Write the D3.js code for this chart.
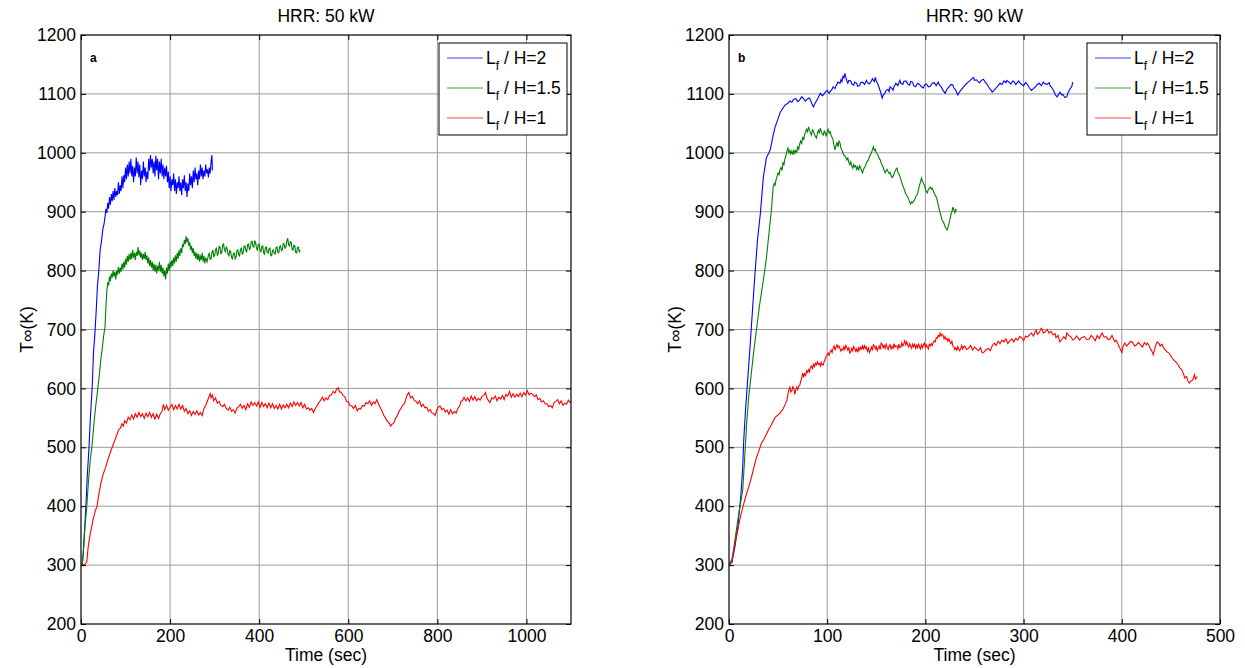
<!DOCTYPE html>
<html><head><meta charset="utf-8">
<script src="https://cdn.jsdelivr.net/npm/d3@7"></script>
<style>body{margin:0;background:#fff}svg{display:block}text{font-family:"Liberation Sans",Arial,sans-serif}</style>
</head><body>
<svg id="c" width="1245" height="668"></svg>
<script>
// ---- data: [time (s), temperature (K)] ----
const titles = ["HRR: 50 kW", "HRR: 90 kW"];
const panelLabels = ["a", "b"];
const seriesNames = ["2", "1.5", "1"];
const xTicksA = [0, 200, 400, 600, 800, 1000];
const xTicksB = [0, 100, 200, 300, 400, 500];
const yTicks = [200, 300, 400, 500, 600, 700, 800, 900, 1000, 1100, 1200];

const a_H2 = [[0,300],[3,302],[5,320],[8,360],[11,400],[14,450],[18,500],[21,550],[25,600],[28,660],[31,690],[34,730],[37,775],[40,800],[43,835],[46,850],[49,870],[52,880],[54,892],[56,905],[58,898],[60,915],[62,905],[64,925],[66,912],[68,930],[70,918],[72,935],[74,920],[76,940],[78,925],[80,935],[82,928],[84,950],[86,930],[88,945],[90,935],[92,960],[94,940],[96,962],[98,950],[100,975],[102,955],[104,980],[106,960],[108,985],[110,965],[112,990],[114,960],[116,978],[118,950],[120,975],[122,960],[124,992],[126,965],[128,985],[130,958],[132,980],[134,945],[136,970],[138,955],[140,985],[142,960],[144,975],[146,950],[148,968],[150,955],[152,990],[154,970],[156,996],[158,975],[160,990],[162,965],[164,985],[166,960],[168,995],[170,970],[172,990],[174,955],[176,985],[178,965],[180,990],[182,960],[184,980],[186,955],[188,975],[190,960],[192,978],[194,950],[196,968],[198,940],[200,960],[202,935],[204,955],[206,945],[208,965],[210,935],[212,955],[214,930],[216,950],[218,940],[220,960],[222,935],[224,950],[226,928],[228,955],[230,940],[232,962],[234,935],[236,950],[238,925],[240,948],[242,935],[244,965],[246,945],[248,960],[250,940],[252,970],[254,950],[256,975],[258,955],[260,965],[262,945],[264,970],[266,955],[268,980],[270,960],[272,975],[274,955],[276,970],[278,960],[280,980],[282,965],[284,972],[286,958],[288,975],[290,965],[292,985],[294,996],[295,970]];
const a_H15 = [[0,300],[3,302],[6,330],[9,365],[13,400],[17,445],[21,480],[25,505],[29,540],[33,570],[37,595],[40,615],[44,645],[48,670],[51,690],[54,705],[56,740],[58,765],[60,780],[62,775],[64,790],[66,782],[68,795],[70,788],[72,800],[74,790],[76,798],[78,785],[80,800],[82,793],[84,806],[86,795],[88,805],[90,798],[92,812],[94,802],[96,815],[98,805],[100,820],[102,810],[104,825],[106,815],[108,828],[110,818],[112,830],[114,820],[116,835],[118,822],[120,830],[122,818],[124,832],[126,825],[128,840],[130,826],[132,834],[134,822],[136,830],[138,818],[140,828],[142,820],[144,832],[146,818],[148,826],[150,812],[152,822],[154,808],[156,818],[158,805],[160,815],[162,800],[164,812],[166,798],[168,810],[170,795],[172,808],[174,800],[176,815],[178,798],[180,810],[182,795],[184,805],[186,790],[188,800],[190,785],[192,805],[194,795],[196,812],[198,800],[200,815],[202,805],[204,818],[206,808],[208,822],[210,812],[212,826],[214,815],[216,830],[218,820],[220,835],[222,825],[224,838],[226,830],[228,845],[230,840],[232,852],[234,845],[236,858],[238,848],[240,855],[242,842],[244,848],[246,835],[248,842],[250,830],[252,838],[254,825],[256,832],[258,820],[260,830],[262,818],[264,828],[266,815],[268,826],[270,818],[272,830],[274,815],[276,825],[278,812],[280,822],[283,815],[286,826],[288,830],[290,819],[292,820],[294,831],[296,835],[298,824],[300,825],[302,836],[304,838],[306,826],[308,828],[310,841],[312,840],[314,829],[316,830],[318,843],[320,845],[322,836],[324,832],[326,840],[328,838],[330,828],[332,825],[334,834],[336,832],[338,822],[340,820],[342,829],[344,830],[346,820],[348,822],[350,834],[352,835],[354,827],[356,825],[358,836],[360,838],[362,828],[364,830],[366,841],[368,842],[370,834],[372,832],[374,844],[376,845],[378,836],[380,838],[382,849],[384,850],[386,841],[388,840],[390,850],[392,848],[394,838],[396,835],[398,844],[400,845],[402,834],[404,832],[406,841],[408,842],[410,830],[412,828],[414,839],[416,840],[418,831],[420,830],[422,837],[424,838],[426,826],[428,825],[430,834],[432,835],[434,829],[436,828],[438,839],[440,840],[442,831],[444,830],[446,841],[448,842],[450,834],[452,835],[454,846],[456,845],[458,838],[460,840],[462,850],[464,855],[466,844],[468,842],[470,849],[472,848],[474,836],[476,835],[478,843],[480,842],[482,831],[484,830],[486,839],[488,840],[490,832],[492,835]];
const a_H1 = [[0,300],[5,300],[10,302],[13,305],[16,330],[20,350],[24,365],[28,380],[32,392],[36,400],[40,420],[45,440],[50,455],[55,465],[60,478],[65,490],[70,500],[75,510],[80,520],[84,529],[88,532],[92,540],[95,536],[98,545],[102,541],[106,551],[110,547],[114,555],[118,548],[122,557],[126,551],[130,559],[134,552],[138,557],[142,549],[146,558],[150,552],[154,559],[158,551],[162,557],[166,548],[170,556],[174,549],[178,557],[182,561],[185,573],[188,564],[192,571],[196,563],[200,568],[204,573],[208,564],[212,571],[216,565],[220,573],[224,565],[228,571],[232,561],[236,566],[240,557],[244,562],[248,554],[252,561],[256,556],[260,562],[264,555],[268,559],[272,554],[276,566],[280,571],[284,579],[288,587],[290,591],[292,584],[295,589],[298,579],[302,584],[306,575],[310,578],[314,571],[318,569],[322,573],[326,566],[330,563],[334,568],[338,561],[342,564],[346,558],[350,566],[354,569],[358,573],[362,566],[366,571],[370,564],[374,574],[378,568],[382,577],[386,571],[390,576],[394,570],[398,577],[402,568],[406,576],[410,569],[414,574],[418,567],[422,575],[426,567],[430,574],[434,566],[438,571],[442,565],[446,573],[450,565],[454,572],[458,567],[462,573],[466,567],[470,575],[474,569],[478,577],[482,571],[486,576],[490,570],[494,576],[498,567],[502,573],[506,565],[510,567],[514,563],[518,566],[522,559],[526,566],[530,571],[534,576],[538,580],[542,585],[546,579],[550,584],[554,581],[558,588],[562,589],[566,595],[570,592],[574,599],[578,601],[580,594],[584,594],[588,588],[592,586],[596,578],[600,577],[604,571],[608,570],[612,566],[616,571],[620,562],[624,566],[628,565],[632,571],[636,570],[640,576],[644,574],[648,579],[652,571],[656,577],[660,574],[664,581],[668,573],[672,567],[676,561],[680,554],[684,549],[688,544],[692,541],[695,536],[698,539],[702,541],[706,549],[710,554],[714,561],[718,566],[722,571],[726,574],[730,584],[733,590],[736,593],[740,584],[744,586],[748,580],[752,578],[756,574],[760,579],[764,569],[768,573],[772,567],[776,568],[780,561],[784,564],[788,558],[792,557],[795,554],[798,562],[802,568],[806,570],[810,564],[814,566],[818,560],[822,563],[826,556],[830,564],[834,557],[838,561],[842,558],[846,566],[850,570],[853,578],[856,579],[860,585],[864,579],[868,584],[872,578],[876,587],[880,580],[884,586],[888,579],[892,583],[896,580],[900,586],[904,588],[908,593],[911,584],[914,580],[918,576],[922,584],[926,582],[930,587],[934,579],[938,585],[942,582],[946,588],[950,581],[954,590],[958,587],[962,595],[966,585],[970,591],[974,585],[978,590],[982,586],[986,592],[990,586],[994,593],[998,589],[1002,596],[1006,589],[1010,592],[1014,590],[1018,586],[1022,589],[1026,581],[1030,583],[1034,577],[1038,579],[1042,574],[1046,574],[1050,569],[1054,571],[1058,567],[1062,576],[1066,578],[1070,581],[1074,574],[1078,579],[1082,571],[1086,575],[1090,573],[1094,580],[1098,576],[1100,578]];

const b_H2 = [[0,300],[3,305],[6,331],[9,365],[12,416],[14,467],[15,512],[17,568],[19,614],[21,660],[23,710],[26,784],[29,852],[32,898],[35,959],[38,991],[42,1005],[45,1030],[47,1044],[50,1058],[52,1068],[55,1076],[57,1081],[60,1084],[62,1088],[64,1086],[66,1091],[68,1092],[70,1087],[72,1090],[74,1095],[75,1094],[77,1089],[78,1088],[80,1092],[82,1093],[83,1089],[84,1085],[85,1081],[86,1078],[87,1082],[89,1088],[91,1094],[93,1101],[95,1097],[96,1098],[98,1103],[100,1106],[102,1101],[103,1104],[105,1108],[106,1112],[108,1109],[109,1114],[110,1117],[111,1120],[113,1118],[114,1124],[115,1121],[116,1130],[117,1127],[118,1135],[119,1128],[120,1122],[121,1118],[122,1123],[124,1122],[125,1117],[127,1115],[128,1120],[130,1118],[131,1113],[133,1114],[134,1119],[136,1120],[138,1116],[140,1123],[141,1119],[143,1117],[145,1122],[146,1126],[148,1121],[149,1128],[150,1122],[152,1115],[153,1110],[154,1105],[155,1099],[156,1093],[157,1098],[159,1102],[160,1106],[162,1108],[163,1104],[164,1112],[166,1109],[167,1106],[168,1112],[170,1118],[172,1114],[174,1123],[175,1118],[177,1116],[178,1121],[180,1122],[182,1117],[184,1115],[185,1121],[187,1120],[188,1114],[190,1112],[192,1118],[194,1116],[196,1112],[198,1110],[199,1115],[201,1117],[203,1112],[205,1113],[207,1118],[209,1119],[211,1114],[213,1120],[214,1116],[216,1112],[218,1106],[220,1101],[222,1108],[224,1112],[226,1116],[228,1115],[229,1110],[231,1106],[232,1102],[233,1098],[235,1104],[237,1108],[239,1112],[241,1116],[243,1119],[245,1122],[247,1125],[249,1128],[250,1123],[252,1124],[254,1120],[255,1119],[257,1123],[259,1125],[261,1120],[262,1118],[264,1113],[265,1110],[267,1106],[268,1103],[270,1106],[272,1110],[274,1114],[276,1118],[278,1116],[280,1122],[282,1119],[283,1123],[285,1120],[287,1117],[289,1122],[290,1121],[292,1116],[293,1118],[295,1122],[296,1119],[298,1116],[300,1114],[302,1119],[304,1116],[306,1110],[308,1106],[310,1109],[312,1112],[314,1116],[316,1118],[318,1114],[320,1120],[322,1117],[324,1116],[326,1119],[327,1114],[329,1110],[331,1104],[332,1100],[333,1097],[334,1095],[336,1100],[337,1103],[339,1098],[340,1099],[342,1094],[344,1095],[345,1101],[347,1108],[349,1112],[350,1120]];
const b_H15 = [[0,300],[3,305],[6,342],[10,388],[14,427],[16,483],[18,541],[20,585],[22,614],[25,660],[28,700],[31,740],[35,784],[38,820],[40,852],[43,900],[45,942],[46,948],[47,945],[48,955],[49,960],[50,966],[51,963],[52,972],[53,975],[54,970],[55,983],[56,980],[57,990],[58,995],[59,1003],[60,1008],[61,1000],[62,1004],[63,998],[64,1003],[65,997],[66,1005],[67,999],[68,1004],[69,1001],[70,1010],[71,1006],[72,1015],[73,1020],[74,1016],[75,1027],[76,1022],[77,1031],[78,1035],[79,1040],[80,1036],[81,1044],[82,1038],[83,1034],[84,1030],[85,1039],[86,1037],[87,1031],[88,1028],[89,1025],[90,1033],[91,1038],[92,1034],[93,1042],[94,1036],[95,1032],[96,1030],[97,1037],[98,1034],[99,1028],[100,1036],[101,1040],[102,1033],[103,1036],[104,1030],[105,1026],[106,1022],[107,1012],[108,1005],[109,1012],[110,1018],[111,1010],[112,1020],[113,1017],[114,1008],[115,1004],[116,1000],[117,996],[118,995],[119,992],[120,988],[121,991],[122,984],[123,980],[124,985],[125,978],[126,974],[127,980],[128,976],[129,978],[130,972],[131,976],[132,970],[133,978],[134,975],[135,969],[136,966],[137,972],[138,975],[139,978],[140,983],[141,986],[142,988],[143,994],[144,996],[145,1000],[146,1005],[147,1010],[148,1004],[149,1006],[150,1000],[151,998],[152,995],[153,990],[154,988],[155,982],[156,979],[157,975],[158,970],[159,966],[160,970],[161,972],[162,968],[163,965],[164,967],[165,962],[166,958],[167,960],[168,964],[169,968],[170,972],[171,974],[172,967],[173,964],[174,960],[175,955],[176,949],[177,944],[178,940],[179,935],[180,930],[181,928],[182,925],[183,921],[184,916],[185,913],[186,917],[187,915],[188,918],[189,920],[190,925],[191,928],[192,930],[193,938],[194,945],[195,950],[196,957],[197,952],[198,948],[199,945],[200,938],[201,934],[202,932],[203,938],[204,940],[205,942],[206,938],[207,940],[208,935],[209,931],[210,928],[211,925],[212,920],[213,912],[214,905],[215,898],[216,892],[217,886],[218,883],[219,880],[220,875],[221,872],[222,869],[223,873],[224,880],[225,887],[226,895],[227,900],[228,908],[229,902],[230,898],[231,904],[232,902]];
const b_H1 = [[0,300],[3,310],[6,337],[9,360],[11,377],[14,398],[18,422],[21,438],[23,450],[26,470],[28,483],[31,497],[33,507],[36,515],[40,529],[43,538],[47,551],[50,555],[52,558],[55,565],[57,572],[59,580],[60,590],[61,598],[62,602],[63,594],[64,596],[65,603],[66,600],[67,590],[68,597],[69,602],[70,598],[71,604],[72,605],[73,612],[74,618],[75,626],[76,620],[77,625],[78,622],[79,630],[80,627],[81,632],[82,628],[83,636],[84,638],[85,634],[86,641],[87,637],[88,643],[89,640],[90,645],[91,641],[92,642],[93,638],[94,644],[95,640],[96,640],[97,646],[98,650],[99,654],[100,657],[101,660],[102,656],[103,662],[104,665],[105,661],[106,668],[107,672],[108,666],[109,670],[110,674],[111,669],[112,672],[113,668],[114,663],[115,667],[116,665],[117,671],[118,666],[119,673],[120,670],[121,665],[122,669],[123,660],[124,662],[125,668],[126,664],[127,671],[128,668],[129,663],[130,667],[131,661],[132,669],[133,665],[134,670],[135,667],[136,672],[137,666],[138,674],[139,668],[140,670],[141,663],[142,668],[143,661],[144,664],[145,670],[146,666],[147,674],[148,672],[149,667],[150,671],[151,664],[152,668],[153,672],[154,666],[155,677],[156,675],[157,669],[158,673],[159,668],[160,675],[161,670],[162,666],[163,672],[164,674],[165,667],[166,671],[167,668],[168,676],[169,670],[170,673],[171,672],[172,667],[173,675],[174,669],[175,670],[176,677],[177,672],[178,676],[179,681],[180,674],[181,679],[182,673],[183,670],[184,676],[185,672],[186,668],[187,675],[188,671],[189,675],[190,668],[191,673],[192,669],[193,676],[194,670],[195,667],[196,674],[197,669],[198,674],[199,677],[200,670],[201,674],[202,670],[203,667],[204,675],[205,672],[206,676],[207,673],[208,678],[209,681],[210,679],[211,686],[212,685],[213,690],[214,688],[215,694],[216,689],[217,692],[218,690],[219,684],[220,688],[221,683],[222,685],[223,680],[224,684],[225,679],[226,676],[227,680],[228,672],[229,670],[230,666],[231,669],[232,665],[233,671],[234,667],[235,664],[236,668],[237,673],[238,667],[239,670],[240,672],[242,666],[244,668],[246,673],[248,665],[250,670],[252,667],[254,664],[256,669],[258,660],[260,662],[262,666],[264,668],[266,664],[268,672],[270,677],[272,673],[274,680],[276,676],[278,682],[280,679],[282,684],[284,676],[286,681],[288,684],[290,679],[292,685],[294,682],[296,688],[298,686],[300,681],[302,689],[304,687],[306,691],[308,694],[310,689],[312,697],[313,699],[314,692],[316,695],[318,702],[319,700],[320,694],[322,696],[324,700],[326,694],[328,697],[330,691],[332,693],[333,686],[335,690],[337,679],[339,683],[341,688],[343,684],[344,694],[346,690],[348,688],[350,682],[352,684],[354,689],[357,682],[359,686],[362,688],[364,683],[367,684],[369,690],[371,686],[373,681],[375,690],[377,685],[380,694],[382,687],[384,688],[386,683],[388,684],[390,690],[391,686],[393,679],[394,682],[396,676],[397,672],[399,665],[400,660],[401,670],[403,677],[405,672],[407,676],[409,680],[411,678],[413,672],[415,674],[417,678],[419,674],[421,670],[423,678],[425,674],[426,677],[428,672],[429,668],[431,662],[432,657],[433,664],[434,670],[435,675],[436,679],[438,676],[439,672],[441,675],[442,670],[444,666],[446,662],[448,660],[450,655],[451,652],[453,648],[455,645],[457,641],[459,635],[461,632],[462,628],[463,624],[464,618],[466,620],[467,614],[468,611],[469,609],[470,612],[472,614],[473,618],[474,623],[475,616],[476,618],[477,620]];

// ---- drawing ----
const colors = ["#0000ff", "#008000", "#ff0000"];
const FONT = 17.5;
const svg = d3.select("#c");
const plotTop = 35, plotBottom = 624;

const panels = [
  {x0: 81, x1: 571, xmax: 1100, xticks: xTicksA, series: [a_H2, a_H15, a_H1], legend: {x: 439, w: 128}},
  {x0: 729, x1: 1220, xmax: 500, xticks: xTicksB, series: [b_H2, b_H15, b_H1], legend: {x: 1087, w: 130}}
];

panels.forEach((p, i) => {
  const x = d3.scaleLinear().domain([0, p.xmax]).range([p.x0, p.x1]);
  const y = d3.scaleLinear().domain([200, 1200]).range([plotBottom, plotTop]);
  const g = svg.append("g");

  // grid
  const grid = g.append("g").attr("stroke", "#8a8a8a").attr("stroke-width", 1).attr("opacity", 0.85);
  p.xticks.forEach(t => { if (t > 0 && t < p.xmax) grid.append("line").attr("x1", x(t)).attr("x2", x(t)).attr("y1", plotTop).attr("y2", plotBottom); });
  yTicks.forEach(t => { if (t > 200 && t < 1200) grid.append("line").attr("x1", p.x0).attr("x2", p.x1).attr("y1", y(t)).attr("y2", y(t)); });

  // lines
  const clipId = "clip" + i;
  svg.append("clipPath").attr("id", clipId).append("rect").attr("x", p.x0).attr("y", plotTop).attr("width", p.x1 - p.x0).attr("height", plotBottom - plotTop);
  const line = d3.line().x(d => x(d[0])).y(d => y(d[1]));
  p.series.forEach((s, k) => {
    g.append("path").attr("d", line(s)).attr("fill", "none").attr("stroke", colors[k]).attr("stroke-width", 1.1).attr("clip-path", `url(#${clipId})`);
  });

  // axes (ticks inward on all sides)
  const fmt = d3.format("d");
  const ax = g.append("g").attr("transform", `translate(0,${plotBottom})`).call(d3.axisBottom(x).tickValues(p.xticks).tickFormat(fmt).tickSize(-5).tickPadding(6).tickSizeOuter(0));
  const axT = g.append("g").attr("transform", `translate(0,${plotTop})`).call(d3.axisTop(x).tickValues(p.xticks).tickSize(-5).tickFormat("").tickSizeOuter(0));
  const ay = g.append("g").attr("transform", `translate(${p.x0},0)`).call(d3.axisLeft(y).tickValues(yTicks).tickFormat(fmt).tickSize(-5).tickPadding(5).tickSizeOuter(0));
  const ayR = g.append("g").attr("transform", `translate(${p.x1},0)`).call(d3.axisRight(y).tickValues(yTicks).tickSize(-5).tickFormat("").tickSizeOuter(0));
  [ax, axT, ay, ayR].forEach(a => {
    a.select(".domain").remove();
    a.selectAll("line").attr("stroke", "#000");
    a.selectAll("text").attr("font-size", FONT).attr("fill", "#000").attr("font-family", '"Liberation Sans",Arial,sans-serif');
  });
  g.append("rect").attr("x", p.x0).attr("y", plotTop).attr("width", p.x1 - p.x0).attr("height", plotBottom - plotTop).attr("fill", "none").attr("stroke", "#000").attr("stroke-width", 1.2);

  // titles and labels
  g.append("text").attr("x", (p.x0 + p.x1) / 2).attr("y", 22).attr("text-anchor", "middle").attr("font-size", FONT).text(titles[i]);
  g.append("text").attr("x", (p.x0 + p.x1) / 2).attr("y", 661).attr("text-anchor", "middle").attr("font-size", FONT).text("Time (sec)");
  g.append("text").attr("transform", `translate(${p.x0 - 48},${(plotTop + plotBottom) / 2}) rotate(-90)`).attr("text-anchor", "middle").attr("font-size", FONT).text("T∞(K)");
  g.append("text").attr("x", p.x0 + 9).attr("y", 62).attr("font-size", 12).attr("font-weight", "bold").text(panelLabels[i]);

  // legend
  const L = p.legend;
  const lg = g.append("g");
  lg.append("rect").attr("x", L.x).attr("y", 43).attr("width", L.w).attr("height", 92).attr("fill", "#fff").attr("stroke", "#000").attr("stroke-width", 1);
  seriesNames.forEach((n, k) => {
    const ly = 58 + k * 30;
    lg.append("line").attr("x1", L.x + 8).attr("x2", L.x + 44).attr("y1", ly).attr("y2", ly).attr("stroke", colors[k]).attr("stroke-width", 1.1).attr("opacity", 0.75);
    const t = lg.append("text").attr("x", L.x + 47).attr("y", ly + 6).attr("font-size", FONT);
    t.append("tspan").text("L");
    t.append("tspan").attr("font-size", 12).attr("dy", 6).text("f");
    t.append("tspan").attr("dy", -6).text(" / H=" + n);
  });
});
</script>
</body></html>
